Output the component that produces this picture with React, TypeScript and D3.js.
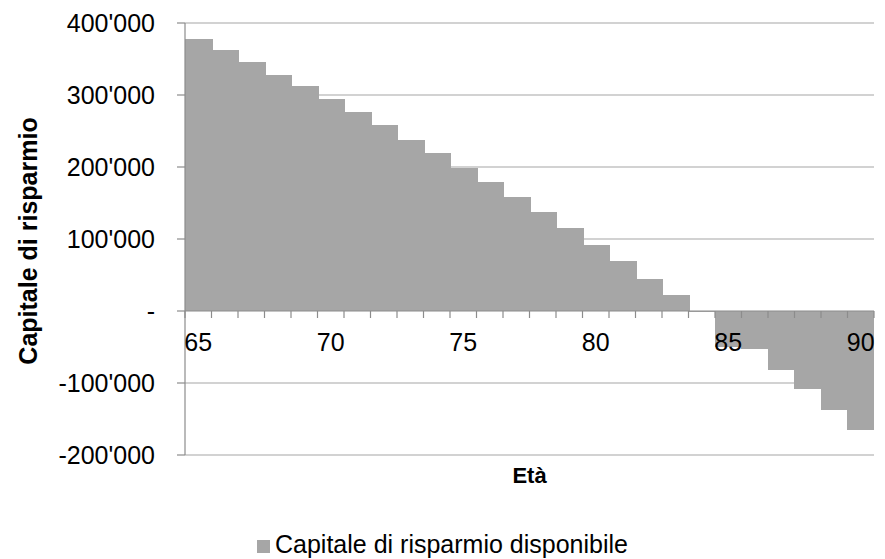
import React, { useRef, useEffect } from 'react';
import * as d3 from 'd3';

// età (anni)
const ages = [65, 66, 67, 68, 69, 70, 71, 72, 73, 74, 75, 76, 77, 78, 79, 80, 81, 82, 83, 84, 85, 86, 87, 88, 89, 90];
// capitale di risparmio disponibile
const capitale = [
  378000, 362000, 346000, 328000, 312000, 294000, 276000, 258000, 238000, 219000,
  199000, 179000, 158000, 137000, 115000, 92000, 69000, 45000, 22000, -1000,
  -50000, -53000, -82000, -108000, -137000, -165000
];
const yTicks = [-200000, -100000, 0, 100000, 200000, 300000, 400000];
const xLabels = [65, 70, 75, 80, 85, 90];
const seriesName = 'Capitale di risparmio disponibile';

export default function App(): JSX.Element {
  const divRef = useRef<HTMLDivElement>(null);
  useEffect(() => {
    const divEle = divRef.current;
    if (divEle == null) {
      return;
    }
    d3.select(divEle).selectAll('*').remove();
    const width = 885;
    const height = 559;
    const font = "'Liberation Sans', Arial, sans-serif";
    const plot = { left: 185, right: 874, top: 23, bottom: 455 };

    const svg = d3
      .select(divEle)
      .append('svg')
      .attr('width', width)
      .attr('height', height)
      .style('display', 'block')
      .style('font-family', font);

    const x = d3
      .scaleBand<string>()
      .domain(ages.map(String))
      .range([plot.left, plot.right])
      .padding(0);
    const y = d3.scaleLinear().domain([-200000, 400000]).range([plot.bottom, plot.top]);

    const fmt = (v: number) => (v === 0 ? '-' : d3.format(',')(Math.abs(v)).replace(/,/g, "'"));
    const label = (v: number) => (v < 0 ? '-' + fmt(v) : fmt(v));

    // griglia
    svg
      .selectAll('line.grid')
      .data(yTicks.filter((d) => d !== 0))
      .join('line')
      .attr('class', 'grid')
      .attr('x1', plot.left)
      .attr('x2', plot.right)
      .attr('y1', (d) => y(d))
      .attr('y2', (d) => y(d))
      .attr('stroke', '#a6a6a6')
      .attr('stroke-width', 1.2);

    // barre (senza spazi tra loro)
    const x0 = (i: number) => Math.floor(x(String(ages[i])) as number);
    const x1 = (i: number) => Math.min(plot.right, Math.ceil((x(String(ages[i])) as number) + x.bandwidth()) + 1);
    svg
      .selectAll('rect.bar')
      .data(capitale)
      .join('rect')
      .attr('class', 'bar')
      .attr('x', (d, i) => x0(i))
      .attr('width', (d, i) => x1(i) - x0(i))
      .attr('y', (d) => y(Math.max(0, d)))
      .attr('height', (d) => Math.abs(y(d) - y(0)))
      .attr('fill', '#a6a6a6')
      .attr('shape-rendering', 'crispEdges');

    // asse y
    svg
      .append('line')
      .attr('x1', plot.left)
      .attr('x2', plot.left)
      .attr('y1', plot.top)
      .attr('y2', plot.bottom)
      .attr('stroke', '#8c8c8c')
      .attr('stroke-width', 1.2);
    svg
      .selectAll('line.ytick')
      .data(yTicks)
      .join('line')
      .attr('class', 'ytick')
      .attr('x1', plot.left - 8)
      .attr('x2', plot.left)
      .attr('y1', (d) => y(d))
      .attr('y2', (d) => y(d))
      .attr('stroke', '#8c8c8c')
      .attr('stroke-width', 1.2);
    svg
      .selectAll('text.ylab')
      .data(yTicks)
      .join('text')
      .attr('class', 'ylab')
      .attr('x', 155)
      .attr('y', (d) => y(d) + 9)
      .attr('text-anchor', 'end')
      .attr('font-size', 25)
      .attr('fill', '#000')
      .text((d) => label(d));

    // asse x (a quota zero)
    svg
      .append('line')
      .attr('x1', plot.left)
      .attr('x2', plot.right)
      .attr('y1', y(0))
      .attr('y2', y(0))
      .attr('stroke', '#8c8c8c')
      .attr('stroke-width', 1.2);
    const bounds = ages.map((a) => x(String(a)) as number).concat([plot.right]);
    svg
      .selectAll('line.xtick')
      .data(bounds)
      .join('line')
      .attr('class', 'xtick')
      .attr('x1', (d) => d)
      .attr('x2', (d) => d)
      .attr('y1', y(0))
      .attr('y2', y(0) + 7)
      .attr('stroke', '#8c8c8c')
      .attr('stroke-width', 1.2);
    svg
      .selectAll('text.xlab')
      .data(xLabels)
      .join('text')
      .attr('class', 'xlab')
      .attr('x', (d) => (x(String(d)) as number) + x.bandwidth() / 2)
      .attr('y', y(0) + 40)
      .attr('text-anchor', 'middle')
      .attr('font-size', 25)
      .attr('fill', '#000')
      .text((d) => String(d));

    // titoli assi
    svg
      .append('text')
      .attr('transform', `translate(37, ${(plot.top + plot.bottom) / 2 + 2}) rotate(-90)`)
      .attr('text-anchor', 'middle')
      .attr('font-size', 25)
      .attr('font-weight', 'bold')
      .text('Capitale di risparmio');
    svg
      .append('text')
      .attr('x', (plot.left + plot.right) / 2)
      .attr('y', 483)
      .attr('text-anchor', 'middle')
      .attr('font-size', 22)
      .attr('font-weight', 'bold')
      .text('Età');

    // legenda
    svg
      .append('rect')
      .attr('x', 257)
      .attr('y', 540)
      .attr('width', 13)
      .attr('height', 13)
      .attr('fill', '#a6a6a6');
    svg
      .append('text')
      .attr('x', 275)
      .attr('y', 553)
      .attr('font-size', 25)
      .attr('fill', '#000')
      .text(seriesName);
  }, []);
  return <div ref={divRef} style={{ position: 'absolute', left: 0, top: 0, width: 885, height: 559 }} />;
}
